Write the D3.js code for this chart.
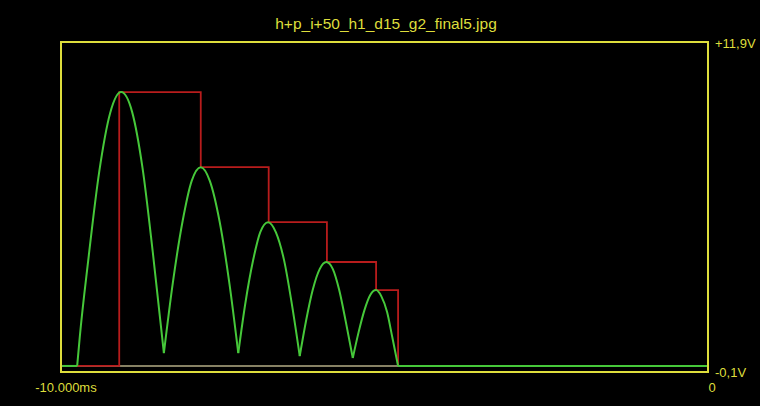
<!DOCTYPE html>
<html>
<head>
<meta charset="utf-8">
<script src="https://cdn.jsdelivr.net/npm/d3@7"></script>
<style>
  body { margin: 0; background: #000; }
  svg { display: block; }
</style>
</head>
<body>
<div id="vis1"></div>
<script>
const frame_height = 406;
const frame_width = 760;
const margins = {left: 61, right: 52, top: 42, bottom: 34};

const title = "h+p_i+50_h1_d15_g2_final5.jpg";
const x_labels = ["-10.000ms", "0"];
const y_labels = ["+11,9V", "-0,1V"];
const x_domain = [-10, 0];      // ms
const y_domain = [-0.1, 11.9];  // V
const baseline = 0.12;

// green trace: rectified humps, [ms, V]
const hump1 = [[-9.75,0.12],[-9.71,1.17],[-9.58,3.94],[-9.41,7.17],[-9.24,9.32],[-9.07,10.08],[-8.90,9.35],[-8.74,7.32],[-8.58,4.23],[-8.41,0.59]];
const hump2 = [[-8.41,0.59],[-8.27,3.17],[-8.12,5.39],[-7.98,6.85],[-7.84,7.35],[-7.70,6.85],[-7.55,5.39],[-7.40,3.17],[-7.26,0.59]];
const hump3 = [[-7.26,0.59],[-7.15,2.41],[-7.03,3.97],[-6.92,4.99],[-6.80,5.35],[-6.68,4.99],[-6.55,3.94],[-6.43,2.34],[-6.31,0.48]];
const hump4 = [[-6.31,0.48],[-6.21,1.79],[-6.11,2.88],[-6.00,3.65],[-5.90,3.90],[-5.80,3.65],[-5.70,2.88],[-5.60,1.75],[-5.49,0.41]];
const hump5 = [[-5.49,0.41],[-5.40,1.35],[-5.31,2.15],[-5.22,2.70],[-5.13,2.88],[-5.05,2.66],[-4.96,2.08],[-4.88,1.17],[-4.79,0.12]];
const green_flat = [[[-9.98,0.12],[-9.75,0.12]], [[-4.79,0.12],[0,0.12]]];

// red trace: peak hold steps
const step_times = [-9.75, -9.10, -7.84, -6.79, -5.89, -5.13, -4.79];
const step_levels = [0.12, 10.08, 7.35, 5.35, 3.90, 2.88, 0.12];

const yellow = "#dede3c";

const frame1 =
d3.select("#vis1")
    .append("svg")
        .attr("height", frame_height)
        .attr("width", frame_width)
        .style("background", "#000");

const x_scale =
d3.scaleLinear()
    .domain(x_domain)
    .range([margins.left, frame_width - margins.right]);
const y_scale =
d3.scaleLinear()
    .domain(y_domain)
    .range([frame_height - margins.bottom, margins.top]);

// zero reference line
frame1.append("line")
    .attr("x1", x_scale(x_domain[0]))
    .attr("x2", x_scale(x_domain[1]))
    .attr("y1", y_scale(baseline))
    .attr("y2", y_scale(baseline))
    .attr("stroke", "#b5ad86")
    .attr("stroke-width", 1.5);

const line = d3.line()
    .x((d) => {return x_scale(d[0]);})
    .y((d) => {return y_scale(d[1]);});

const step_line = d3.line()
    .x((d, i) => {return x_scale(step_times[i]);})
    .y((d) => {return y_scale(d);})
    .curve(d3.curveStepAfter);

frame1.append("path")
    .attr("d", step_line(step_levels))
    .attr("fill", "none")
    .attr("stroke", "#b81c1c")
    .attr("stroke-width", 1.8);

frame1.selectAll(".flat")
    .data(green_flat)
    .enter()
    .append("path")
        .attr("d", (d) => {return line(d);})
        .attr("fill", "none")
        .attr("stroke", "#46c83a")
        .attr("stroke-width", 2);

frame1.selectAll(".hump")
    .data([hump1, hump2, hump3, hump4, hump5])
    .enter()
    .append("path")
        .attr("d", (d) => {return line.curve(d3.curveMonotoneX)(d);})
        .attr("fill", "none")
        .attr("stroke", "#46c83a")
        .attr("stroke-width", 2);

// frame
frame1.append("rect")
    .attr("x", x_scale(x_domain[0]))
    .attr("y", y_scale(y_domain[1]))
    .attr("width", x_scale(x_domain[1]) - x_scale(x_domain[0]))
    .attr("height", y_scale(y_domain[0]) - y_scale(y_domain[1]))
    .attr("fill", "none")
    .attr("stroke", yellow)
    .attr("stroke-width", 2);

const txt = (s, x, y, anchor, size) => {
    frame1.append("text")
        .attr("x", x)
        .attr("y", y)
        .attr("text-anchor", anchor)
        .attr("fill", yellow)
        .attr("font-family", "Liberation Sans, Arial, sans-serif")
        .attr("font-size", size)
        .text(s);
};

txt(title, 386, 29, "middle", "15.5px");
txt(y_labels[0], x_scale(x_domain[1]) + 7, y_scale(y_domain[1]) + 6, "start", "13px");
txt(y_labels[1], x_scale(x_domain[1]) + 7, y_scale(y_domain[0]) + 5, "start", "13px");
txt(x_labels[0], x_scale(x_domain[0]) + 5, y_scale(y_domain[0]) + 20, "middle", "13px");
txt(x_labels[1], x_scale(x_domain[1]) + 4, y_scale(y_domain[0]) + 20, "middle", "13px");
</script>
</body>
</html>
